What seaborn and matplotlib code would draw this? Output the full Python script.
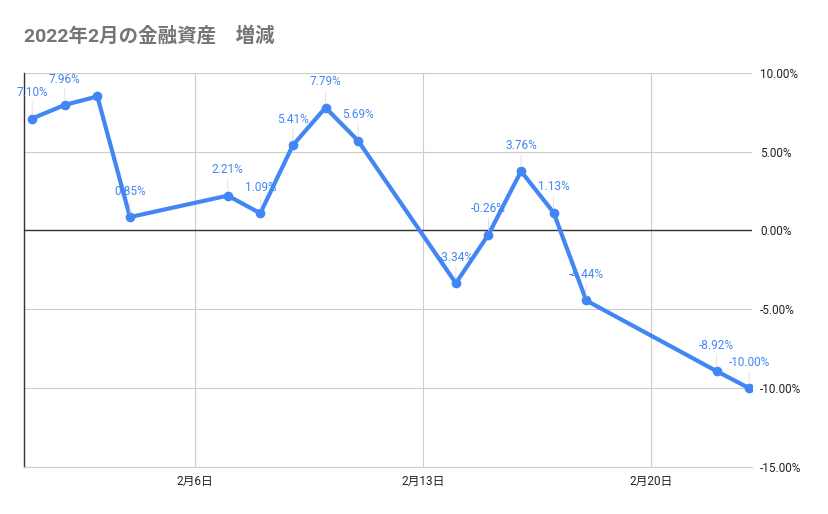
import pandas as pd
import numpy as np
import matplotlib
matplotlib.use("Agg")
import matplotlib.pyplot as plt
import matplotlib.dates as mdates
from matplotlib.ticker import FuncFormatter, FixedLocator
import seaborn as sns

# --- Datos ---
dates = ["2022-02-01", "2022-02-02", "2022-02-03", "2022-02-04", "2022-02-07",
         "2022-02-08", "2022-02-09", "2022-02-10", "2022-02-11", "2022-02-14",
         "2022-02-15", "2022-02-16", "2022-02-17", "2022-02-18", "2022-02-22",
         "2022-02-23"]
values = [7.10, 7.96, 8.50, 0.85, 2.21, 1.09, 5.41, 7.79, 5.69, -3.34,
          -0.26, 3.76, 1.13, -4.44, -8.92, -10.00]
# la etiqueta del 3 de febrero no aparece en el original
show_label = [True, True, False, True, True, True, True, True, True, True,
              True, True, True, True, True, True]
x_ticks = ["2022-02-06", "2022-02-13", "2022-02-20"]
y_ticks = [10, 5, 0, -5, -10, -15]

df = pd.DataFrame({"date": pd.to_datetime(dates), "value": values})

sns.set_theme(style="white")
plt.rcParams["font.family"] = ["Roboto", "Noto Sans CJK JP", "DejaVu Sans"]

BLUE = "#4285F4"
fig = plt.figure(figsize=(8.29, 5.14), dpi=100)
ax = fig.add_axes([0.029, 0.0914, 0.878, 0.767])

sns.lineplot(data=df, x="date", y="value", ax=ax, color=BLUE, linewidth=3,
             marker="o", markersize=7, markeredgewidth=0, zorder=3)

for d, v, s in zip(df["date"], df["value"], show_label):
    if not s:
        continue
    ax.annotate(f"{v:.2f}%", xy=(d, v), xytext=(0, 14), textcoords="offset points",
                ha="center", va="bottom", fontsize=8.5, color=BLUE,
                arrowprops=dict(arrowstyle="-", color="#dddddd", lw=0.6,
                                shrinkA=0, shrinkB=3), zorder=4)

# --- Ejes ---
ax.set_xlim(pd.Timestamp("2022-01-31 18:00"), pd.Timestamp("2022-02-23 02:00"))
ax.set_ylim(-15, 10)
ax.xaxis.set_major_locator(FixedLocator(mdates.date2num(pd.to_datetime(x_ticks))))
ax.xaxis.set_major_formatter(FuncFormatter(
    lambda x, p: f"{mdates.num2date(x).month}月{mdates.num2date(x).day}日"))
ax.yaxis.tick_right()
ax.set_yticks(y_ticks)
ax.yaxis.set_major_formatter(FuncFormatter(lambda y, p: f"{y:.2f}%"))
ax.tick_params(axis="both", length=0, labelsize=8.5, colors="#222222")
ax.tick_params(axis="y", pad=6)
ax.tick_params(axis="x", pad=6)
ax.grid(True, color="#cccccc", linewidth=0.8)
ax.axhline(0, color="#333333", linewidth=1, zorder=2)
ax.set_xlabel("")
ax.set_ylabel("")

for side in ["top", "right"]:
    ax.spines[side].set_visible(False)
ax.spines["left"].set_color("#333333")
ax.spines["left"].set_linewidth(1)
ax.spines["bottom"].set_color("#cccccc")
ax.spines["bottom"].set_linewidth(0.8)

fig.text(0.029, 0.93, "2022年2月の金融資産　増減", fontsize=14, fontweight="bold",
         color="#757575", ha="left", va="center")

fig.savefig("out.png", dpi=100)
